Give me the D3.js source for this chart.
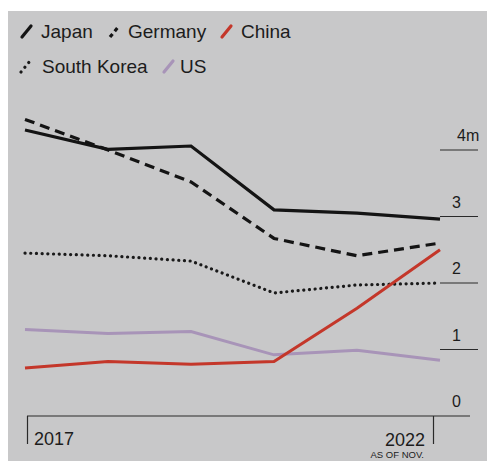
<!DOCTYPE html>
<html>
<head>
<meta charset="utf-8">
<script src="https://cdn.jsdelivr.net/npm/d3@7"></script>
<style>
  html, body { margin: 0; padding: 0; background: #ffffff; }
  svg { display: block; }
  text { font-family: "Liberation Sans", Arial, Helvetica, sans-serif; fill: #1c1c1c; }
</style>
</head>
<body>
<script>
const years = [2017, 2018, 2019, 2020, 2021, 2022];
const japan = [4.30, 4.01, 4.06, 3.10, 3.05, 2.96];
const germany = [4.46, 4.00, 3.52, 2.67, 2.41, 2.60];
const southKorea = [2.45, 2.41, 2.33, 1.85, 1.97, 2.00];
const us = [1.30, 1.24, 1.27, 0.92, 0.99, 0.84];
const china = [0.72, 0.82, 0.78, 0.82, 1.62, 2.50];
const yTicks = [0, 1, 2, 3, 4];
const yTickLabels = ["0", "1", "2", "3", "4m"];
const xTickLabels = ["2017", "2022"];
const xNote = "AS OF NOV.";

const W = 487, H = 461;
const svg = d3.select("body").append("svg").attr("width", W).attr("height", H);

// paper background with white margins at top/left
svg.append("rect").attr("x", 0).attr("y", 0).attr("width", W).attr("height", H).attr("fill", "#ffffff");
svg.append("rect").attr("x", 8).attr("y", 11).attr("width", W - 8).attr("height", H - 11).attr("fill", "#c8c8c9");

const x = d3.scaleLinear().domain([2017, 2022]).range([25, 440]);
const y = d3.scaleLinear().domain([0, 4]).range([416, 150]);

// y tick labels and short underlines
const yg = svg.append("g");
yTicks.forEach((t, i) => {
  if (t > 0) {
    yg.append("line").attr("x1", 440).attr("x2", 478)
      .attr("y1", y(t)).attr("y2", y(t))
      .attr("stroke", "#2a2a2a").attr("stroke-width", 1.2);
  }
  yg.append("text").attr("x", t === 4 ? 457 : 452).attr("y", y(t) - 9)
    .attr("font-size", 16).text(yTickLabels[i]);
});

// x axis baseline and end ticks
const xAxis = d3.axisBottom(x).tickValues([2017, 2022]).tickSize(28).tickFormat("");
const xg = svg.append("g").attr("transform", `translate(0,${y(0)})`).call(xAxis);
xg.select(".domain").remove();
xg.selectAll(".tick line").attr("stroke", "#2a2a2a").attr("stroke-width", 1.2)
  .attr("transform", (d, i) => i === 0 ? "translate(2,0)" : "translate(-7,0)");
svg.append("line").attr("x1", x(2017) + 2).attr("x2", 470)
  .attr("y1", y(0)).attr("y2", y(0)).attr("stroke", "#2a2a2a").attr("stroke-width", 1.2);
svg.append("text").attr("x", x(2017) + 9).attr("y", 445).attr("font-size", 18).text(xTickLabels[0]);
svg.append("text").attr("x", x(2022) - 15).attr("y", 446).attr("font-size", 18)
  .attr("text-anchor", "end").text(xTickLabels[1]);
svg.append("text").attr("x", x(2022) - 16).attr("y", 458).attr("font-size", 9.5)
  .attr("text-anchor", "end").text(xNote);

const line = d3.line().x((d, i) => x(years[i])).y(d => y(d));

const series = [
  { name: "US", values: us, color: "#a894b8", width: 3, dash: null, cap: "butt" },
  { name: "South Korea", values: southKorea, color: "#1a1a1a", width: 3.2, dash: "0.1 5.6", cap: "round" },
  { name: "Germany", values: germany, color: "#141414", width: 3.2, dash: "10 6", cap: "butt" },
  { name: "Japan", values: japan, color: "#141414", width: 3.2, dash: null, cap: "butt" },
  { name: "China", values: china, color: "#c4372a", width: 3, dash: null, cap: "butt" }
];

svg.append("g").selectAll("path").data(series).join("path")
  .attr("d", d => line(d.values))
  .attr("fill", "none")
  .attr("stroke", d => d.color)
  .attr("stroke-width", d => d.width)
  .attr("stroke-dasharray", d => d.dash)
  .attr("stroke-linecap", d => d.cap)
  .attr("stroke-linejoin", "miter");

// legend
const legend = [
  { name: "Japan", sx: 22, tx: 41, row: 0, key: "Japan" },
  { name: "Germany", sx: 110, tx: 128, row: 0, key: "Germany" },
  { name: "China", sx: 222, tx: 241, row: 0, key: "China" },
  { name: "South Korea", sx: 21, tx: 42, row: 1, key: "South Korea" },
  { name: "US", sx: 164, tx: 180, row: 1, key: "US" }
];
const rowY = [38, 73];
const lg = svg.append("g");
legend.forEach(l => {
  const s = series.find(d => d.name === l.key);
  const by = rowY[l.row] - 1;
  const isG = s.name === "Germany", isK = s.name === "South Korea";
  lg.append("line")
    .attr("x1", l.sx).attr("y1", by)
    .attr("x2", l.sx + 9).attr("y2", by - 11)
    .attr("stroke", s.color)
    .attr("stroke-width", 3.2)
    .attr("stroke-linecap", isG ? "butt" : "round")
    .attr("stroke-dasharray", isG ? "4 3.5" : (isK ? "0.1 6" : null));
  lg.append("text").attr("x", l.tx).attr("y", rowY[l.row]).attr("font-size", 19).text(l.name);
});
</script>
</body>
</html>
